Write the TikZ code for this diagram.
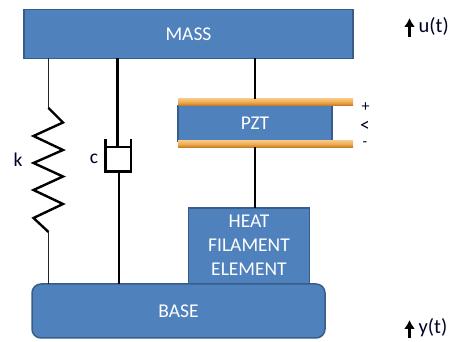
\documentclass[tikz,border=0pt]{standalone}
\usepackage{fontspec}
\setmainfont{Carlito}
\usetikzlibrary{calc,arrows.meta}
\definecolor{boxblue}{RGB}{79,129,189}
\definecolor{boxedge}{RGB}{56,93,138}
\definecolor{platefill}{RGB}{240,170,70}
\definecolor{plateedge}{RGB}{190,120,40}
\tikzset{
  x=1pt,y=-1pt,
  blockbox/.style={draw=boxedge,line width=1.5pt,fill=boxblue,text=white,inner sep=0pt,outer sep=0pt,font=\fontsize{19.5}{22}\selectfont,align=center,anchor=north west},
  plate/.style={draw=none,inner sep=0pt,outer sep=0pt,anchor=north west,top color=platefill!70!white,bottom color=plateedge,middle color=platefill},
  wire/.style={draw=black,line width=2.4pt},
  thinwire/.style={draw=black!85,line width=1.5pt},
  springline/.style={draw=black,line width=2.4pt,line join=miter},
  lab/.style={inner sep=0pt,font=\fontsize{19.5}{22}\selectfont,text=black!85!blue},
  motion/.style={draw=black,line width=2.4pt,-{Latex[length=9pt,width=11pt]}}
}
\begin{document}
\begin{tikzpicture}
\useasboundingbox (0,0) rectangle (451,342);
% heat element and base
\node[blockbox,minimum width=121pt,minimum height=77pt] (heat) at (188.5,208) {};
\node[inner sep=0pt,text=white,font=\fontsize{19.5}{24}\selectfont,align=center] (heattxt) at (249,245.5) {HEAT\\FILAMENT\\ELEMENT};
\node[blockbox,rounded corners=9pt,minimum width=293pt,minimum height=54pt] (base) at (32,284) {BASE};
\node[blockbox,minimum width=329pt,minimum height=49pt] (mass) at (24,9.5) {MASS};
% PZT
\node[blockbox,minimum width=154pt,minimum height=36pt] (pzt) at (178,105.5) {PZT};
\node[plate,minimum width=175pt,minimum height=6.5pt] (ptop) at (178,99) {};
\node[plate,minimum width=175pt,minimum height=6.5pt] (pbot) at (178,141) {};
% PZT connectors
\coordinate (pzx) at (255,0);
\draw[wire] (mass.south -| pzx) -- (ptop.north -| pzx);
\draw[wire] (pbot.south -| pzx) -- (heat.north -| pzx);
% spring
\coordinate (sx) at (48.5,0);
\coordinate (s1) at (48.5,108);
\coordinate (s2) at (48.5,232);
\draw[thinwire] (mass.south -| sx) -- (s1);
\draw[springline] (s1) -- (63,122.5) -- (33.5,136) -- (63,150) -- (33.5,163) -- (63,176.5) -- (33.5,190) -- (63,204) -- (33.5,218) -- (s2);
\draw[thinwire] (s2) -- (base.north -| sx);
% damper
\coordinate (d1) at (117.5,147);
\coordinate (d2) at (119,171.5);
\draw[wire] (mass.south -| d1) -- (d1);
\draw[wire] (106,147) -- (130,147);
\draw[wire] (105.5,139.5) -- (105.5,171.5) -- (131,171.5) -- (131,139.5);
\draw[wire] (d2) -- (base.north -| d2);
% labels
\node[lab] (k) at (18,160) {k};
\node[lab] (c) at (94,159) {c};
\node[lab,font=\fontsize{16}{18}\selectfont] (plus) at (365.5,107.5) {+};
\node[lab,font=\fontsize{19.5}{22}\selectfont] (v) at (365,126.5) {<};
\node[lab,font=\fontsize{15}{17}\selectfont] (minus) at (365,144) {-};
\node[lab,anchor=west,font=\fontsize{20.5}{22}\selectfont] (u) at (418.5,26.5) {u(t)};
\node[lab,anchor=west,font=\fontsize{20.5}{22}\selectfont] (y) at (418.5,328) {y(t)};
\coordinate (ua) at (409.5,37);
\coordinate (ub) at (409.5,18);
\coordinate (ya) at (409.5,338);
\coordinate (yb) at (409.5,320);
\draw[motion] (ua) -- (ub);
\draw[motion] (ya) -- (yb);
\end{tikzpicture}
\end{document}
